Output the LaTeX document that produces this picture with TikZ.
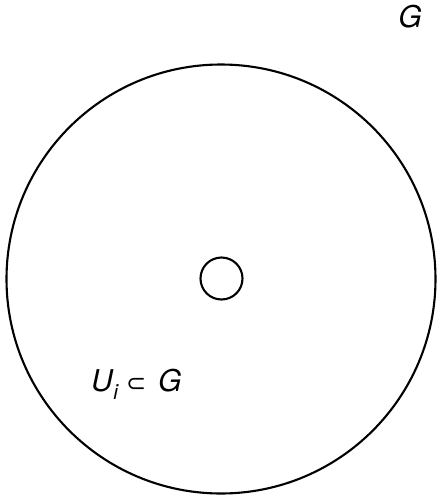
\documentclass[tikz,border=0pt]{standalone}
\usepackage{fontspec}
\setmainfont{TeX Gyre Heros}
\newfontfamily\symfont{DejaVu Sans}
\begin{document}
\begin{tikzpicture}[x=1pt,y=-1pt,
  ring/.style={draw=black,line width=2.1pt},
  lbl/.style={font=\fontsize{30}{36}\selectfont\itshape,inner sep=0pt}]
\useasboundingbox (0,0) rectangle (440,496);
\node[ring,circle,minimum size=429pt,inner sep=0pt] (outer) at (221,279) {};
\node[ring,circle,minimum size=42pt,inner sep=0pt] (inner) at (221.5,278.5) {};
\node[lbl,anchor=base] (g) at (410,27.5) {G};
\node[lbl,anchor=base west] (u) at (91,391) {U\kern0.5pt\raisebox{-8pt}{\fontsize{21}{24}\selectfont i}\hspace{8pt}{\upshape\symfont\fontsize{24}{28}\selectfont ⊂}\hspace{12pt}G};
\end{tikzpicture}
\end{document}
